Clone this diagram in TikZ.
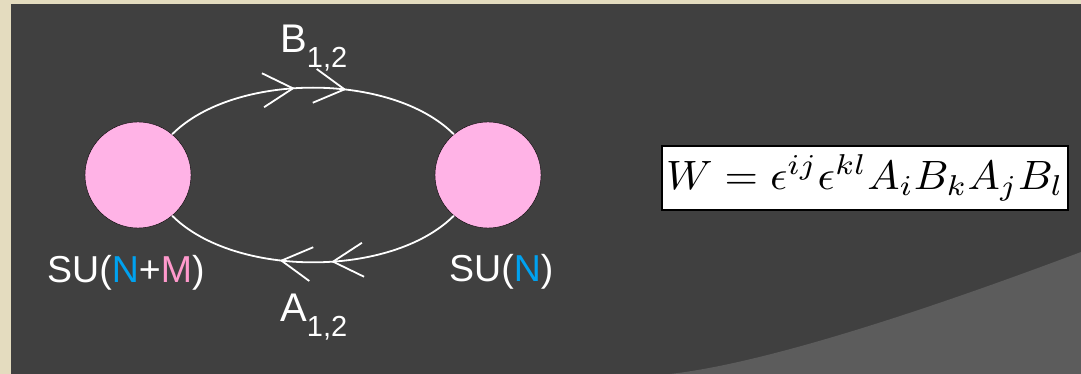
\documentclass[tikz,border=0pt]{standalone}
\usepackage{fontspec}
\setsansfont{Liberation Sans}
\usetikzlibrary{arrows.meta,decorations.markings}

\definecolor{bgBeige}{HTML}{E4DCBF}
\definecolor{bgDark}{HTML}{404040}
\definecolor{bgLight}{HTML}{5C5C5C}
\definecolor{grpPink}{HTML}{FFB3E6}
\definecolor{colN}{HTML}{00A2F0}
\definecolor{colM}{HTML}{FF99CC}

\begin{document}
\begin{tikzpicture}[x=1pt, y=1pt,
    barb/.tip={Straight Barb[length=30pt, width=34pt]},
    group/.style={circle, draw=black, thin, fill=grpPink,
                  minimum size=106pt, inner sep=0pt},
    lbl/.style={text=white, font=\sffamily\fontsize{37.5}{40}\selectfont,
                inner sep=0pt, anchor=base west},
    big/.style={text=white, font=\sffamily\fontsize{40}{44}\selectfont,
                inner sep=0pt, anchor=base west},
    bif/.style={white, line width=1.8pt, postaction=decorate,
                decoration={markings,
                  mark=at position 0.44 with {\arrow{barb}},
                  mark=at position 0.61 with {\arrow{barb}}}},
]
\useasboundingbox (0,0) rectangle (1081,374);

% --- background ---
\fill[bgBeige] (0,0) rectangle (1081,374);
\fill[bgDark] (11,0) rectangle (1081,370);
\fill[bgLight] (670,0) .. controls (750,9) and (887,49) .. (1081,122)
    -- (1081,0) -- cycle;

% --- gauge groups ---
\node[group] (gl) at (138,199) {};
\node[group] (gr) at (488,199) {};

\node[lbl] (sul) at (47,91)
    {SU(\textcolor{colN}{N}+\textcolor{colM}{M})};
\node[lbl] (sur) at (449,92) {SU(\textcolor{colN}{N})};

% --- bifundamentals ---
\draw[bif] (gl.50) to[out=45, in=135, looseness=0.8] (gr.130);
\draw[bif] (gr.-130) to[out=-135, in=-45, looseness=0.8] (gl.-50);

\node[big] (B) at (280,321)
    {B\raisebox{-15pt}{\fontsize{29}{29}\selectfont 1,2}};
\node[big] (A) at (280,52)
    {A\raisebox{-15pt}{\fontsize{29}{29}\selectfont 1,2}};

% --- superpotential ---
\node[draw=black, line width=1.8pt, fill=white, minimum width=406pt,
      minimum height=64pt, inner sep=0pt] (W) at (865,196)
    {\scalebox{4.3}[4.1]{$W=\epsilon^{ij}\epsilon^{kl}A_iB_kA_jB_l$}};

\end{tikzpicture}
\end{document}
